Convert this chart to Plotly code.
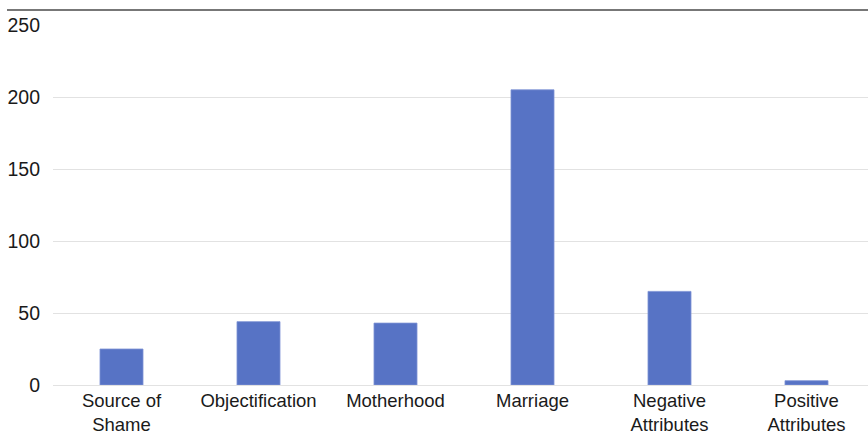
import plotly.graph_objects as go

categories = ["Source of<br>Shame", "Objectification", "Motherhood", "Marriage",
              "Negative<br>Attributes", "Positive<br>Attributes"]
values = [25, 44, 43, 205, 65, 3]
y_ticks = [0, 50, 100, 150, 200, 250]

W, H = 868, 437
L, R, T, B = 53, 0, 25, 52
plot_w = W - L - R
plot_h = H - T - B
spacing = 137.0

fig = go.Figure()
fig.add_trace(go.Bar(
    x=categories, y=values,
    marker=dict(color="#5773c5", line=dict(width=0.8, color="#7d93d4")),
    width=0.314,
))

top_line_y = 1 + (T - 10) / plot_h
fig.add_shape(type="line", xref="paper", yref="paper",
              x0=(7 - L) / plot_w, x1=1.0, y0=top_line_y, y1=top_line_y,
              line=dict(color="#4a4a4a", width=1.3))

fig.update_layout(
    width=W, height=H,
    margin=dict(l=L, r=R, t=T, b=B, pad=0),
    paper_bgcolor="white", plot_bgcolor="white",
    showlegend=False,
    font=dict(family="Liberation Sans, Arial, Helvetica, sans-serif", size=19, color="#1a1a1a"),
    xaxis=dict(
        type="category",
        range=[-0.5, -0.5 + plot_w / spacing],
        showgrid=False, showline=False, zeroline=False,
        ticks="", ticklabelstandoff=2,
        automargin=False,
        tickfont=dict(size=18.5),
    ),
    yaxis=dict(
        range=[0, 250],
        tickvals=y_ticks,
        showgrid=True, gridcolor="#e2e2e2", gridwidth=1.3,
        zeroline=True, zerolinecolor="#e2e2e2", zerolinewidth=1.3,
        showline=False, ticks="", ticklabelstandoff=12,
        automargin=False,
        tickfont=dict(size=19.5),
    ),
)

fig.write_html("out.html")
